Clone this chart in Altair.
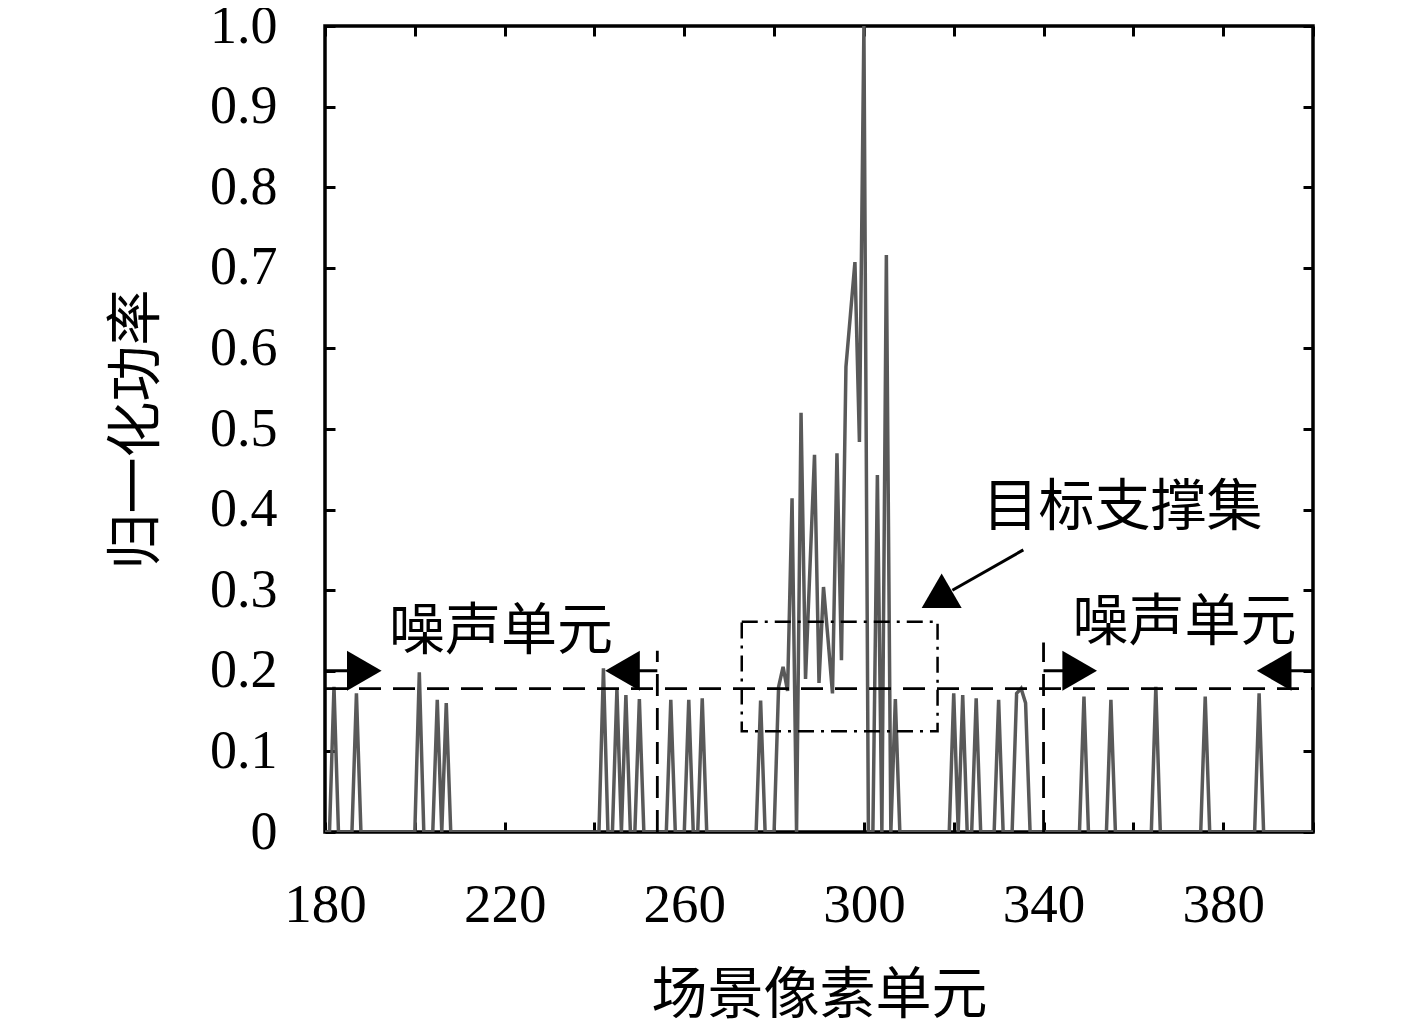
import altair as alt
import pandas as pd

# ---- data ----
x_first, x_last = 180, 400
peak_x = [182, 187, 201, 205, 207, 242, 245, 247, 250, 257, 261, 264, 277,
          281, 282, 283, 284, 285, 286, 287, 288, 289, 290, 291, 292, 293, 294,
          295, 296, 297, 298, 299, 300, 301, 302, 303, 304, 305, 306, 307,
          320, 322, 325, 330, 334, 335, 336, 349, 355, 365, 376, 388]
peak_y = [0.18, 0.172, 0.198, 0.164, 0.16, 0.203, 0.177, 0.17, 0.165, 0.164, 0.164, 0.166, 0.163,
          0.18, 0.205, 0.175, 0.414, 0.0, 0.52, 0.19, 0.33, 0.468, 0.185, 0.304, 0.24, 0.172, 0.47,
          0.213, 0.577, 0.642, 0.707, 0.484, 1.0, 0.0, 0.0, 0.443, 0.0, 0.716, 0.0, 0.165,
          0.172, 0.17, 0.166, 0.164, 0.172, 0.178, 0.16, 0.168, 0.164, 0.18, 0.168, 0.172]

x_label_values = [180, 220, 260, 300, 340, 380]
x_tick_values = [180, 200, 220, 240, 260, 280, 300, 320, 340, 360, 380, 400]
y_values = [0, 0.1, 0.2, 0.3, 0.4, 0.5, 0.6, 0.7, 0.8, 0.9, 1.0]

threshold = 0.178            # dashed level
noise_label = "噪声单元"
target_label = "目标支撑集"
x_title = "场景像素单元"
y_title = "归一化功率"

vals = dict(zip(peak_x, peak_y))
xs = list(range(x_first, x_last + 1))
df = pd.DataFrame({"x": xs, "y": [vals.get(v, 0.0) for v in xs]})

# annotation geometry (data units)
hline = pd.DataFrame({"x": [180], "x2": [400], "y": [threshold]})
vlines = pd.DataFrame({"x": [254, 340], "y": [0, 0], "y2": [0.225, 0.235]})
shafts = pd.DataFrame({"x": [180, 246, 340, 391], "x2": [188, 254, 348, 400],
                       "y": [0.2, 0.2, 0.2, 0.2]})
heads = pd.DataFrame({"x": [188.75, 246.25, 348.05, 391.35, 316.2],
                      "y": [0.2, 0.2, 0.2, 0.2, 0.2886],
                      "angle": [90, 270, 90, 270, 240]})
box = pd.DataFrame({"x": [272.8], "x2": [316.4], "y": [0.125], "y2": [0.261]})
pointer = pd.DataFrame({"x": [335.5], "y": [0.35], "x2": [319.7], "y2": [0.30]})
texts = pd.DataFrame({"x": [219.2, 371.4, 357.6], "y": [0.248, 0.259, 0.402],
                      "t": [noise_label, noise_label, target_label]})

W, H = 988, 806
xscale = alt.Scale(domain=[180, 400], nice=False, zero=False)
yscale = alt.Scale(domain=[0, 1], nice=False, zero=False)
serif = "Liberation Serif"
cjk = "Noto Sans CJK SC"

line = alt.Chart(df).mark_line(color="#595959", strokeWidth=3.5, clip=True).encode(
    x=alt.X("x:Q", scale=xscale, axis=alt.Axis(
        values=x_label_values, orient="bottom", title=x_title, ticks=False, tickSize=0,
        domain=False, grid=False, labelFont=serif, labelFontSize=55, labelPadding=46,
        labelFlush=False, labelOverlap=False, labelColor="black",
        titleFont=cjk, titleFontSize=56, titleFontWeight="normal", titlePadding=36,
        titleColor="black")),
    y=alt.Y("y:Q", scale=yscale, axis=alt.Axis(
        values=y_values, orient="left", title=y_title, ticks=False, tickSize=0,
        domain=False, grid=False, labelFont=serif, labelFontSize=54, labelPadding=48,
        labelFlush=False, labelOverlap=False, labelColor="black",
        labelExpr="datum.value == 0 ? '0' : format(datum.value, '.1f')",
        titleFont=cjk, titleFontSize=56, titleFontWeight="normal", titlePadding=44,
        titleColor="black")),
)

def tick_axis(orient, off, values):
    return alt.Axis(orient=orient, offset=off, values=values, labels=False, domain=False,
                    ticks=True, tickSize=10, tickWidth=3, tickColor="black", grid=False,
                    title="")

ticks_a = alt.Chart(df).mark_point(opacity=0).encode(
    x=alt.X("x:Q", scale=xscale, axis=tick_axis("top", -H, x_tick_values)),
    y=alt.Y("y:Q", scale=yscale, axis=tick_axis("right", -W, y_values)),
)
ticks_b = alt.Chart(df).mark_point(opacity=0).encode(
    x=alt.X("x:Q", scale=xscale, axis=tick_axis("bottom", -H, x_tick_values)),
    y=alt.Y("y:Q", scale=yscale, axis=tick_axis("left", -W, y_values)),
)

hl = alt.Chart(hline).mark_rule(color="black", strokeWidth=2.8, strokeDash=[22, 12]).encode(
    x=alt.X("x:Q", scale=xscale, axis=None), x2="x2:Q",
    y=alt.Y("y:Q", scale=yscale, axis=None))
vl = alt.Chart(vlines).mark_rule(color="black", strokeWidth=2.8, strokeDash=[22, 12]).encode(
    x=alt.X("x:Q", scale=xscale, axis=None),
    y=alt.Y("y:Q", scale=yscale, axis=None), y2="y2:Q")
sh = alt.Chart(shafts).mark_rule(color="black", strokeWidth=3).encode(
    x=alt.X("x:Q", scale=xscale, axis=None), x2="x2:Q",
    y=alt.Y("y:Q", scale=yscale, axis=None))
hd = alt.Chart(heads).mark_point(filled=True, shape="triangle-up", size=1600,
                                 color="black", opacity=1).encode(
    x=alt.X("x:Q", scale=xscale, axis=None),
    y=alt.Y("y:Q", scale=yscale, axis=None),
    angle=alt.Angle("angle:Q", scale=None))
bx = alt.Chart(box).mark_rect(fillOpacity=0, stroke="black", strokeWidth=2.5,
                              strokeDash=[16, 7, 3, 7]).encode(
    x=alt.X("x:Q", scale=xscale, axis=None), x2="x2:Q",
    y=alt.Y("y:Q", scale=yscale, axis=None), y2="y2:Q")
pt = alt.Chart(pointer).mark_rule(color="black", strokeWidth=3).encode(
    x=alt.X("x:Q", scale=xscale, axis=None), x2="x2:Q",
    y=alt.Y("y:Q", scale=yscale, axis=None), y2="y2:Q")
tx = alt.Chart(texts).mark_text(font=cjk, fontSize=56, color="black",
                                align="center", baseline="middle").encode(
    x=alt.X("x:Q", scale=xscale, axis=None),
    y=alt.Y("y:Q", scale=yscale, axis=None),
    text="t:N")

chart = alt.layer(line, ticks_a, ticks_b, hl, vl, sh, bx, pt, hd, tx).resolve_axis(
    x="independent", y="independent"
).properties(
    width=W, height=H,
    autosize=alt.AutoSizeParams(type="none"),
    padding={"left": 317, "top": 18, "right": 90, "bottom": 200},
    background="white",
).configure_view(stroke="black", strokeWidth=3.5)

chart.save("out.html", embed_options={"renderer": "svg", "actions": False})
